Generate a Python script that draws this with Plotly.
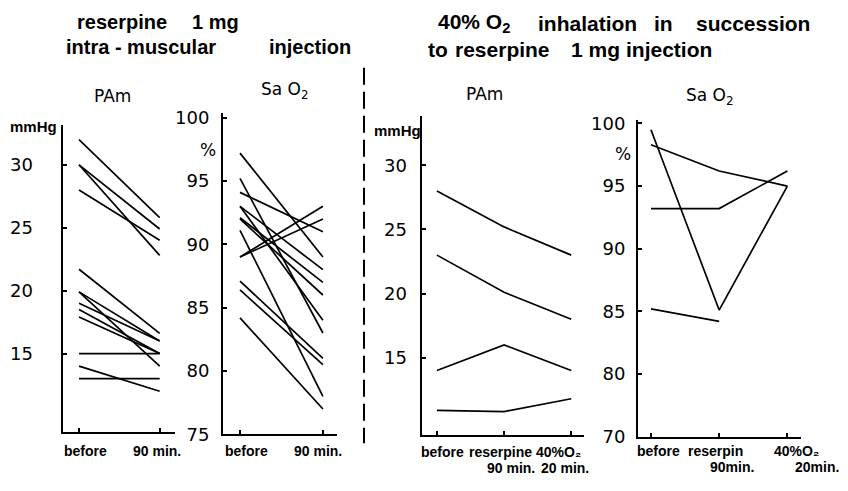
import plotly.graph_objects as go

# ---- data -------------------------------------------------------------
# reserpine 1 mg i.m.: PAm (mmHg) before / after 90 min, one pair per subject
pam_im_before = [32.0, 30.0, 30.0, 28.0, 21.7, 19.9, 19.9, 19.0, 18.5, 17.9, 15.0, 14.0, 13.0]
pam_im_after = [25.8, 24.9, 22.8, 24.0, 16.6, 16.0, 14.0, 16.0, 15.0, 15.0, 15.0, 12.0, 13.0]

# reserpine 1 mg i.m.: SaO2 (%) before / after 90 min
sao2_im_before = [97.2, 95.2, 94.1, 93.0, 93.0, 92.1, 92.0, 91.1, 89.0, 89.0, 87.1, 86.4, 84.2]
sao2_im_after = [89.0, 83.0, 91.0, 88.0, 84.0, 87.0, 86.0, 78.0, 93.0, 92.0, 81.0, 80.5, 77.0]

# 40% O2 after reserpine: before / reserpine 90 min / 40% O2 20 min
pam_o2 = [
    [28.0, 25.2, 23.0],
    [23.0, 20.1, 18.0],
    [14.0, 16.0, 14.0],
    [10.9, 10.8, 11.8],
]
sao2_o2 = [
    [99.5, 85.1, 95.0],
    [98.3, 96.2, 95.0],
    [93.2, 93.2, 96.2],
    [85.2, 84.2, None],
]

# axis ticks
pam_ticks = [15, 20, 25, 30]
sao2_ticks = [75, 80, 85, 90, 95, 100]
sao2_o2_ticks = [75, 80, 85, 90, 95, 100]
sao2_o2_ticktext = ["70", "80", "85", "90", "95", "100"]

# category labels
cats_im = ["before", "90 min."]
cats_o2_row1 = ["before", "reserpine", "40%O\u2082"]
cats_o2_row2 = ["", "90 min.", "20 min."]
cats_o2b_row1 = ["before", "reserpin", "40%O\u2082"]
cats_o2b_row2 = ["", "90min.", "20min."]

# ---- figure -----------------------------------------------------------
W, H = 848, 491
INK = "black"
fig = go.Figure()


def px_x(p):
    return p / W


def px_y(p):
    return 1 - p / H


def add_pairs(before, after, ax):
    for b, a in zip(before, after):
        fig.add_trace(go.Scatter(
            x=[0, 1], y=[b, a], mode="lines",
            line=dict(color=INK, width=1.7),
            xaxis="x" + ax, yaxis="y" + ax, showlegend=False, hoverinfo="skip"))


def add_series(rows, ax):
    for r in rows:
        xs = [i for i, v in enumerate(r) if v is not None]
        ys = [v for v in r if v is not None]
        fig.add_trace(go.Scatter(
            x=xs, y=ys, mode="lines",
            line=dict(color=INK, width=1.7),
            xaxis="x" + ax, yaxis="y" + ax, showlegend=False, hoverinfo="skip"))


add_pairs(pam_im_before, pam_im_after, "")
add_pairs(sao2_im_before, sao2_im_after, "2")
add_series(pam_o2, "3")
add_series(sao2_o2, "4")

tick_font = dict(family="DejaVu Sans", size=18, color=INK)

# panel geometry: (x0, x1, y_bottom, y_top) in pixels, x range, y range
panels = {
    "": dict(px=(62.5, 175, 440.7, 122), xr=[-0.205, 1.19], yr=[8.73, 33.18],
             ticks=pam_ticks, text=None, standoff=24, nx=2),
    "2": dict(px=(223, 337, 442.7, 110), xr=[-0.205, 1.17], yr=[75, 100.35],
              ticks=sao2_ticks, text=None, standoff=8, nx=2),
    "3": dict(px=(421.5, 584, 443.3, 113), xr=[-0.23, 2.19], yr=[8.98, 33.84],
              ticks=pam_ticks, text=None, standoff=9, nx=3),
    "4": dict(px=(638, 801, 445, 116.7), xr=[-0.19, 2.2], yr=[75, 100.3],
              ticks=sao2_o2_ticks, text=sao2_o2_ticktext, standoff=7, nx=3),
}

for ax, p in panels.items():
    x0, x1, yb, yt = p["px"]
    xname = "xaxis" + ax
    yname = "yaxis" + ax
    fig.layout[xname] = dict(
        domain=[px_x(x0), px_x(x1)], range=p["xr"], anchor="y" + ax,
        showline=True, linecolor=INK, linewidth=2, showgrid=False, zeroline=False,
        tickvals=list(range(p["nx"])), ticks="inside", ticklen=4, tickcolor=INK,
        tickwidth=1.5, showticklabels=False, fixedrange=True)
    ydict = dict(
        domain=[px_y(yb), px_y(yt)], range=p["yr"], anchor="x" + ax,
        showline=True, linecolor=INK, linewidth=2, showgrid=False, zeroline=False,
        tickvals=p["ticks"], ticks="inside", ticklen=4, tickcolor=INK, tickwidth=1.5,
        tickfont=tick_font, ticklabelstandoff=p["standoff"], fixedrange=True)
    if p["text"] is not None:
        ydict["ticktext"] = p["text"]
    fig.layout[yname] = ydict

ann = []


def label(text, x, y, size=14, family="Liberation Sans", bold=True, anchor="center",
          xref="paper", xshift=0):
    t = f"<b>{text}</b>" if bold else text
    ann.append(dict(text=t, x=x, y=y, xref=xref, yref="paper", xanchor=anchor,
                    yanchor="middle", showarrow=False, xshift=xshift,
                    font=dict(family=family, size=size, color=INK)))


# headings
label("reserpine", px_x(75), px_y(16), size=20, anchor="left")
label("1 mg", px_x(190), px_y(16), size=20, anchor="left")
label("intra - muscular", px_x(64), px_y(41), size=20, anchor="left")
label("injection", px_x(267), px_y(41), size=20, anchor="left")

label("40% O<sub>2</sub>", px_x(436), px_y(17), size=21, anchor="left")
label("inhalation", px_x(536), px_y(17), size=21, anchor="left")
label("in", px_x(652), px_y(17), size=21, anchor="left")
label("succession", px_x(694), px_y(17), size=21, anchor="left")
label("to", px_x(426), px_y(44), size=21, anchor="left")
label("reserpine", px_x(453), px_y(44), size=21, anchor="left")
label("1 mg", px_x(569), px_y(44), size=21, anchor="left")
label("injection", px_x(624), px_y(44), size=21, anchor="left")

# panel titles
title_font = "DejaVu Sans"
label("PAm", px_x(112), px_y(92), size=17, family=title_font, bold=False)
label("Sa O<sub>2</sub>", px_x(285), px_y(86), size=17, family=title_font, bold=False)
label("PAm", px_x(484), px_y(90), size=17, family=title_font, bold=False)
label("Sa O<sub>2</sub>", px_x(710), px_y(93), size=17, family=title_font, bold=False)

# units
label("mmHg", px_x(33), px_y(124), size=15)
label("%", px_x(208), px_y(148), size=17, family=title_font, bold=False)
label("mmHg", px_x(397), px_y(128), size=15)
label("%", px_x(623), px_y(152), size=17, family=title_font, bold=False)

# category labels under each panel, tied to the x axes
shifts_im = {"": [6, -3], "2": [6, -5]}
for ax, sh in shifts_im.items():
    for i, c in enumerate(cats_im):
        label(c, i, px_y(460), xref="x" + ax, xshift=sh[i])

for i, c in enumerate(cats_o2_row1):
    label(c, i, px_y(461), xref="x3", xshift=[6, -4, -13][i])
for i, c in enumerate(cats_o2_row2):
    if c:
        label(c, i, px_y(478), xref="x3", xshift=[0, 7, -6][i])
for i, c in enumerate(cats_o2b_row1):
    if c:
        label(c, i, px_y(460), xref="x4", xshift=[8, -4, 9][i])
for i, c in enumerate(cats_o2b_row2):
    if c:
        label(c, i, px_y(477), xref="x4", xshift=[0, 13, 30][i])

# dashed divider between the two experiments
fig.add_shape(type="line", xref="paper", yref="paper",
              x0=px_x(364), x1=px_x(364), y0=px_y(63), y1=px_y(452),
              line=dict(color=INK, width=2, dash="17px,7px"))

fig.update_layout(
    width=W, height=H, autosize=False,
    margin=dict(l=0, r=0, t=0, b=0),
    paper_bgcolor="white", plot_bgcolor="white",
    annotations=ann,
)

fig.write_html("out.html")
